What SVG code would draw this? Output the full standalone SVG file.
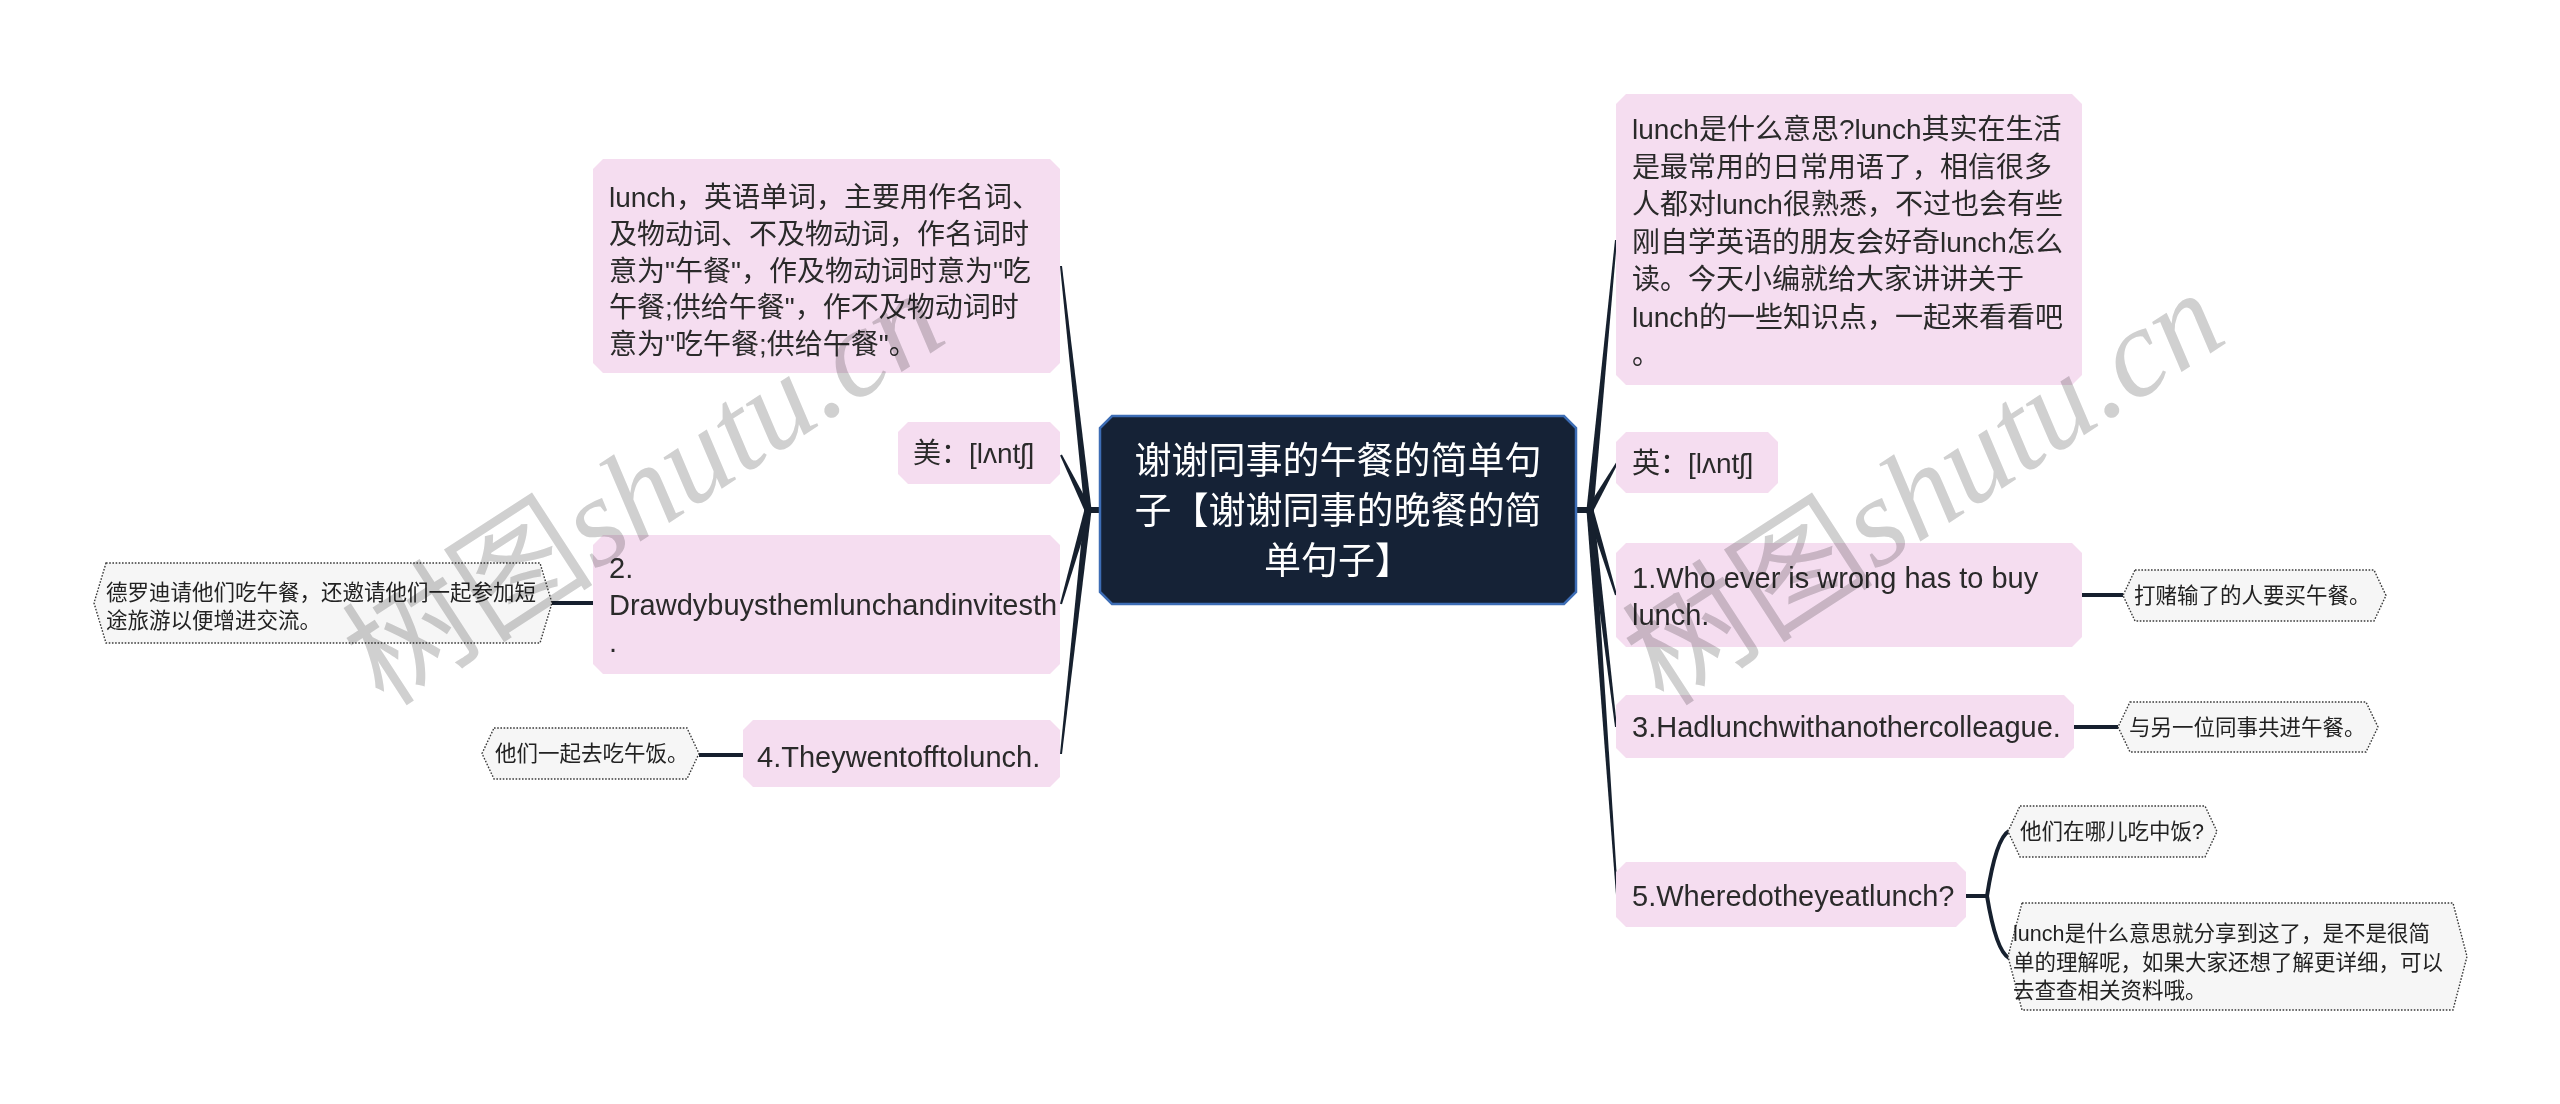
<svg xmlns="http://www.w3.org/2000/svg" width="2560" height="1104" viewBox="0 0 2560 1104">
<style>
.bg{fill:#ffffff}
.n{fill:#f5ddf0}
.root{fill:#152236;stroke:#3d6db5;stroke-width:2.5}
.t{font-family:"Liberation Sans","Noto Sans CJK SC",sans-serif;font-size:28px;fill:#2a2a2a}
.tl{font-size:29px}
.rt{font-family:"Liberation Sans","Noto Sans CJK SC",sans-serif;font-size:37px;fill:#ffffff;text-anchor:middle}
.lf{fill:#f6f6f6;stroke:#3a3a3a;stroke-width:1.4;stroke-dasharray:1.6 1.6}
.lt{font-family:"Liberation Sans","Noto Sans CJK SC",sans-serif;font-size:21.5px;fill:#222222}
.c{fill:#16202e}
.cl{stroke:#16202e;stroke-width:4;fill:none}
.wm{font-family:"Liberation Serif","Noto Sans CJK SC",serif;font-size:126px;fill:#d0d0d0;mix-blend-mode:multiply}
</style>
<rect class="bg" x="0" y="0" width="2560" height="1104"/>

<g id="connectors">
  <rect class="c" x="1085" y="507" width="16" height="6"/>
  <rect class="c" x="1575" y="507" width="17" height="6"/>
  <polygon class="c" points="1091.5,509.6 1062,265.9 1060,266.1 1084.5,510.4"/>
  <polygon class="c" points="1091.1,508.5 1061.9,454.6 1060.1,455.4 1084.9,511.5"/>
  <polygon class="c" points="1084.6,509 1060,603.7 1062,604.3 1091.4,511"/>
  <polygon class="c" points="1084.5,509.6 1060,753.9 1062,754.1 1091.5,510.4"/>
  <polygon class="c" points="1593.5,510.3 1617,240.1 1615,239.9 1586.5,509.7"/>
  <polygon class="c" points="1593,511.7 1617.9,463.5 1616.1,462.5 1587,508.3"/>
  <polygon class="c" points="1586.7,511 1615,595.3 1617,594.7 1593.3,509"/>
  <polygon class="c" points="1586.5,510.4 1615,727.1 1617,726.9 1593.5,509.6"/>
  <polygon class="c" points="1586.5,510.2 1616,895.1 1618,894.9 1593.5,509.8"/>
  <path class="cl" d="M552,603 H593"/>
  <path class="cl" d="M699,755 H743"/>
  <path class="cl" d="M2082,595 H2123"/>
  <path class="cl" d="M2074,727 H2118"/>
  <path class="cl" d="M1966,896 H1988"/>
  <path class="cl" d="M1987,896 Q1996,838 2009,831"/>
  <path class="cl" d="M1987,896 Q1996,951 2009,958"/>
</g>

<g id="center">
  <path class="root" d="M1112,416 H1564 L1576,428 V592 L1564,604 H1112 L1100,592 V428 Z"/>
  <text class="rt"><tspan x="1338" y="474">谢谢同事的午餐的简单句</tspan><tspan x="1338" y="524">子【谢谢同事的晚餐的简</tspan><tspan x="1338" y="574">单句子】</tspan></text>
</g>

<g id="node-l1">
  <path class="n" d="M603,159 H1050 L1060,169 V363 L1050,373 H603 L593,363 V169 Z"/>
  <text class="t"><tspan x="609" y="207">lunch，英语单词，主要用作名词、</tspan><tspan x="609" y="244">及物动词、不及物动词，作名词时</tspan><tspan x="609" y="281">意为"午餐"，作及物动词时意为"吃</tspan><tspan x="609" y="317">午餐;供给午餐"，作不及物动词时</tspan><tspan x="609" y="354">意为"吃午餐;供给午餐"。</tspan></text>
</g>

<g id="node-l2">
  <path class="n" d="M908,422 H1050 L1060,432 V474 L1050,484 H908 L898,474 V432 Z"/>
  <text class="t" x="913" y="463">美：[lʌntʃ]</text>
</g>

<g id="node-l3">
  <path class="n" d="M603,535 H1050 L1060,545 V664 L1050,674 H603 L593,664 V545 Z"/>
  <text class="t tl"><tspan x="609" y="578">2.</tspan><tspan x="609" y="615">Drawdybuysthemlunchandinvitesth</tspan><tspan x="609" y="652">.</tspan></text>
</g>

<g id="node-l4">
  <path class="n" d="M753,720 H1050 L1060,730 V777 L1050,787 H753 L743,777 V730 Z"/>
  <text class="t tl" x="757" y="767">4.Theywentofftolunch.</text>
</g>

<g id="leaf-l3">
  <path class="lf" d="M106,563 H540 L552,603 L540,643 H106 L94,603 Z"/>
  <text class="lt"><tspan x="106" y="600">德罗迪请他们吃午餐，还邀请他们一起参加短</tspan><tspan x="106" y="628">途旅游以便增进交流。</tspan></text>
</g>

<g id="leaf-l4">
  <path class="lf" d="M494,728 H687 L699,753.5 L687,779 H494 L482,753.5 Z"/>
  <text class="lt" x="495" y="761">他们一起去吃午饭。</text>
</g>

<g id="node-r1">
  <path class="n" d="M1626,94 H2072 L2082,104 V375 L2072,385 H1626 L1616,375 V104 Z"/>
  <text class="t"><tspan x="1632" y="139">lunch是什么意思?lunch其实在生活</tspan><tspan x="1632" y="177">是最常用的日常用语了，相信很多</tspan><tspan x="1632" y="214">人都对lunch很熟悉，不过也会有些</tspan><tspan x="1632" y="252">刚自学英语的朋友会好奇lunch怎么</tspan><tspan x="1632" y="289">读。今天小编就给大家讲讲关于</tspan><tspan x="1632" y="327">lunch的一些知识点，一起来看看吧</tspan><tspan x="1632" y="364">。</tspan></text>
</g>

<g id="node-r2">
  <path class="n" d="M1626,432 H1768 L1778,442 V483 L1768,493 H1626 L1616,483 V442 Z"/>
  <text class="t" x="1632" y="473">英：[lʌntʃ]</text>
</g>

<g id="node-r3">
  <path class="n" d="M1626,543 H2072 L2082,553 V637 L2072,647 H1626 L1616,637 V553 Z"/>
  <text class="t tl"><tspan x="1632" y="588">1.Who ever is wrong has to buy</tspan><tspan x="1632" y="625">lunch.</tspan></text>
</g>

<g id="node-r4">
  <path class="n" d="M1626,695 H2064 L2074,705 V748 L2064,758 H1626 L1616,748 V705 Z"/>
  <text class="t tl" x="1632" y="737">3.Hadlunchwithanothercolleague.</text>
</g>

<g id="node-r5">
  <path class="n" d="M1626,862 H1956 L1966,872 V917 L1956,927 H1626 L1616,917 V872 Z"/>
  <text class="t tl" x="1632" y="906">5.Wheredotheyeatlunch?</text>
</g>

<g id="leaf-r3">
  <path class="lf" d="M2135,570 H2374 L2386,595.5 L2374,621 H2135 L2123,595.5 Z"/>
  <text class="lt" x="2134" y="603">打赌输了的人要买午餐。</text>
</g>

<g id="leaf-r4">
  <path class="lf" d="M2130,702 H2366 L2378,727 L2366,752 H2130 L2118,727 Z"/>
  <text class="lt" x="2129" y="735">与另一位同事共进午餐。</text>
</g>

<g id="leaf-r5a">
  <path class="lf" d="M2020,806 H2205 L2217,831.5 L2205,857 H2020 L2008,831.5 Z"/>
  <text class="lt" x="2020" y="839">他们在哪儿吃中饭?</text>
</g>

<g id="leaf-r5b">
  <path class="lf" d="M2022,903 H2453 L2467,956.5 L2453,1010 H2022 L2008,956.5 Z"/>
  <text class="lt"><tspan x="2013" y="941">lunch是什么意思就分享到这了，是不是很简</tspan><tspan x="2013" y="970">单的理解呢，如果大家还想了解更详细，可以</tspan><tspan x="2013" y="998">去查查相关资料哦。</tspan></text>
</g>

<g id="watermarks">
  <text class="wm" transform="translate(384,708) rotate(-33)">树图<tspan font-style="italic">shutu.cn</tspan></text>
  <text class="wm" transform="translate(1664,708) rotate(-33)">树图<tspan font-style="italic">shutu.cn</tspan></text>
</g>
</svg>
